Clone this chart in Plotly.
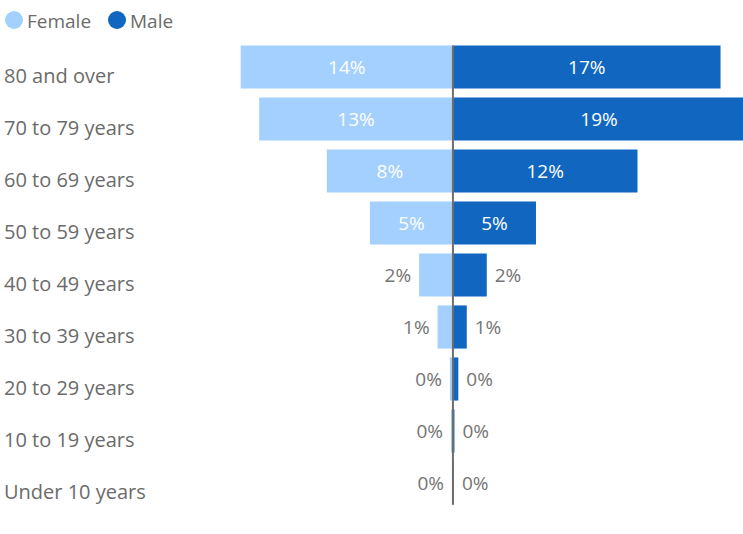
import plotly.graph_objects as go

# Age groups, listed top to bottom
age_groups = [
    "80 and over", "70 to 79 years", "60 to 69 years", "50 to 59 years",
    "40 to 49 years", "30 to 39 years", "20 to 29 years", "10 to 19 years",
    "Under 10 years",
]
# Share of each sex in each age group (%)
female_pct = [13.8, 12.6, 8.2, 5.4, 2.2, 1.0, 0.2, 0.07, 0.03]
male_pct = [17.4, 19.0, 12.0, 5.4, 2.2, 0.9, 0.35, 0.1, 0.03]

FEMALE_COLOR = "#A3D0FE"
MALE_COLOR = "#1167C0"
TEXT_GRAY = "#6b6b6b"
LABEL_GRAY = "#747474"
FONT = "Open Sans"
INSIDE_MIN = 5  # labels go inside bars at least this wide
NBSP = "\u00a0"
BARGAP = 0.17


def labels(values, side):
    out = []
    for v in values:
        s = f"{round(v)}%"
        if v < INSIDE_MIN:
            s = s + NBSP if side == "left" else NBSP + s
        out.append(s)
    return out


def positions(values):
    return ["inside" if v >= INSIDE_MIN else "outside" for v in values]


fig = go.Figure()
fig.add_trace(go.Bar(
    y=age_groups, x=[-v for v in female_pct], orientation="h", name="Female",
    marker=dict(color=FEMALE_COLOR, line=dict(width=0)),
    text=labels(female_pct, "left"), textposition=positions(female_pct),
    insidetextanchor="middle", textangle=0, constraintext="none",
    insidetextfont=dict(color="white", size=19, family=FONT),
    outsidetextfont=dict(color=LABEL_GRAY, size=19, family=FONT),
    hoverinfo="skip", showlegend=False,
))
fig.add_trace(go.Bar(
    y=age_groups, x=male_pct, orientation="h", name="Male",
    marker=dict(color=MALE_COLOR, line=dict(width=0)),
    text=labels(male_pct, "right"), textposition=positions(male_pct),
    insidetextanchor="middle", textangle=0, constraintext="none",
    insidetextfont=dict(color="white", size=19, family=FONT),
    outsidetextfont=dict(color=LABEL_GRAY, size=19, family=FONT),
    hoverinfo="skip", showlegend=False,
))

n = len(age_groups)
shapes = [
    # centre divider from the top of the first bar to the bottom of the last
    dict(type="line", xref="x", yref="y", x0=0, x1=0,
         y0=-0.5 + BARGAP / 2, y1=n - 0.5 - BARGAP / 2,
         line=dict(color="#6e6e6e", width=2), layer="above"),
]

annotations = []
for g in age_groups:
    annotations.append(dict(
        text=g, xref="paper", yref="y", x=2 / 743, y=g, xanchor="left",
        yanchor="middle", yshift=-8, showarrow=False,
        font=dict(family=FONT, size=20, color=TEXT_GRAY),
    ))

# Legend: coloured dots followed by series names
legend_items = [("Female", FEMALE_COLOR, 5, 25), ("Male", MALE_COLOR, 108, 128)]
for name, color, dot_x, text_x in legend_items:
    shapes.append(dict(
        type="circle", xref="paper", yref="paper", xsizemode="pixel",
        ysizemode="pixel", xanchor=0, yanchor=1, x0=dot_x, x1=dot_x + 18,
        y0=12, y1=30, fillcolor=color, line=dict(width=0),
    ))
    annotations.append(dict(
        text=name, xref="paper", yref="paper", x=text_x / 743, y=1,
        xanchor="left", yanchor="middle", yshift=20, showarrow=False,
        font=dict(family=FONT, size=19, color=TEXT_GRAY),
    ))

fig.update_layout(
    width=743, height=534,
    margin=dict(l=0, r=0, t=41, b=25, pad=0),
    barmode="relative", bargap=BARGAP,
    plot_bgcolor="white", paper_bgcolor="white",
    xaxis=dict(range=[-29.45, 18.86], visible=False, fixedrange=True),
    yaxis=dict(range=[n - 0.5, -0.5], visible=False, fixedrange=True,
               categoryorder="array", categoryarray=age_groups),
    shapes=shapes, annotations=annotations,
    showlegend=False,
)

fig.write_html("out.html", config={"displayModeBar": False})
